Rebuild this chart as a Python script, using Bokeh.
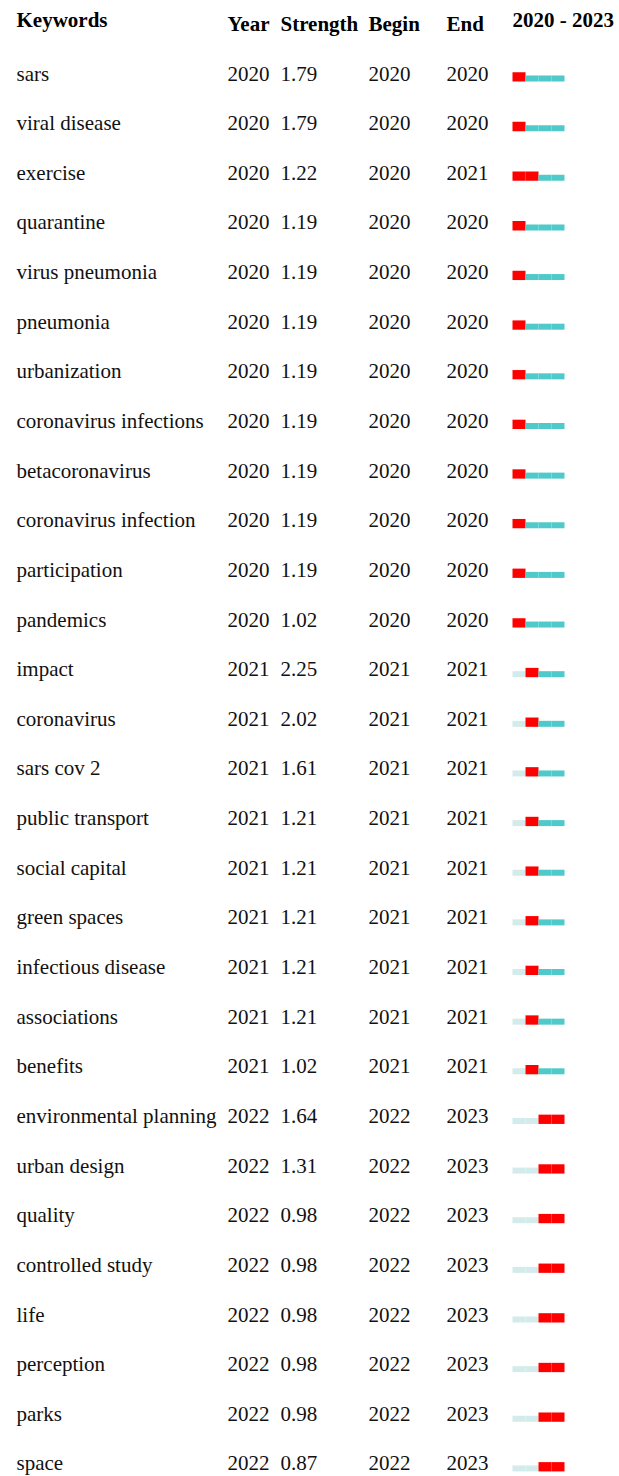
from bokeh.plotting import figure
from bokeh.models import Range1d, ColumnDataSource
from bokeh.core.properties import value
from bokeh.embed import file_html
from bokeh.resources import INLINE

# Keyword burst table: keyword, first year, burst strength, burst begin / end
keywords = [
    "sars", "viral disease", "exercise", "quarantine", "virus pneumonia",
    "pneumonia", "urbanization", "coronavirus infections", "betacoronavirus",
    "coronavirus infection", "participation", "pandemics", "impact",
    "coronavirus", "sars cov 2", "public transport", "social capital",
    "green spaces", "infectious disease", "associations", "benefits",
    "environmental planning", "urban design", "quality", "controlled study",
    "life", "perception", "parks", "space",
]
years = [2020] * 12 + [2021] * 9 + [2022] * 8
strengths = [
    1.79, 1.79, 1.22, 1.19, 1.19, 1.19, 1.19, 1.19, 1.19, 1.19, 1.19, 1.02,
    2.25, 2.02, 1.61, 1.21, 1.21, 1.21, 1.21, 1.21, 1.02,
    1.64, 1.31, 0.98, 0.98, 0.98, 0.98, 0.98, 0.87,
]
begins = [2020] * 12 + [2021] * 9 + [2022] * 8
ends = [2020, 2020, 2021] + [2020] * 9 + [2021] * 9 + [2023] * 8
span_start, span_end = 2020, 2023
headers = ["Keywords", "Year", "Strength", "Begin", "End"]

W, H = 619, 1476
ROW = 49.64          # row pitch in pixels
FIRST = 81.0         # baseline of the first row in pixels
SEG = 13.0           # width of one year cell in pixels
BAR_X0 = 512.0       # left edge of the timeline in pixels
TXT_SHIFT = -8       # lift glyph baselines onto the bar line

p = figure(
    width=W, height=H, output_backend="svg", toolbar_location=None,
    x_range=Range1d(0, W),
    y_range=Range1d((H - FIRST) / ROW, -FIRST / ROW),
    min_border=0,
)
p.axis.visible = False
p.grid.visible = False
p.outline_line_color = None
p.background_fill_color = "white"
p.border_fill_color = "white"

# timeline scale expressed in years
yr0 = span_start - BAR_X0 / SEG
p.extra_x_ranges = {"yr": Range1d(yr0, yr0 + W / SEG)}

font = value("Liberation Serif")
rows = list(range(len(keywords)))

body = ColumnDataSource(dict(
    row=rows,
    kw=keywords,
    year=[str(v) for v in years],
    strength=[f"{v:.2f}" for v in strengths],
    begin=[str(v) for v in begins],
    end=[str(v) for v in ends],
))
col_x = {"kw": 16, "year": 227, "strength": 280, "begin": 368, "end": 446}
for col, x in col_x.items():
    p.text(x=x, y="row", text=col, source=body, text_font=font,
           text_font_size="21px", text_color="#111111", y_offset=TXT_SHIFT,
           text_baseline="alphabetic", text_align="left")

# header line
hdr_x = [16, 227, 280, 368, 446]
hdr_y = [-54 / ROW] + [-50 / ROW] * 4
p.text(x=hdr_x, y=hdr_y, text=headers, text_font=font, text_font_size="21px",
       text_font_style="bold", text_color="#000000", y_offset=TXT_SHIFT,
       text_baseline="alphabetic")
p.text(x=[512], y=[-54 / ROW], text=[f"{span_start} - {span_end}"],
       text_font=font, text_font_size="21px", text_font_style="bold",
       text_color="#000000", y_offset=TXT_SHIFT, text_baseline="alphabetic")

# burst timeline segments
left, right, bottom, top, color = [], [], [], [], []
for i in rows:
    for y in range(span_start, span_end + 1):
        left.append(y)
        right.append(y + 1)
        bottom.append(i)
        if begins[i] <= y <= ends[i]:
            top.append(i - 9.3 / ROW)
            color.append("#FF0000")
        elif y >= years[i]:
            top.append(i - 6 / ROW)
            color.append("#4FC9C9")
        else:
            top.append(i - 6 / ROW)
            color.append("#D3EBEB")
p.quad(left=left, right=right, bottom=bottom, top=top, fill_color=color,
       line_color=None, x_range_name="yr")

open("out.html", "w").write(file_html(p, INLINE))
